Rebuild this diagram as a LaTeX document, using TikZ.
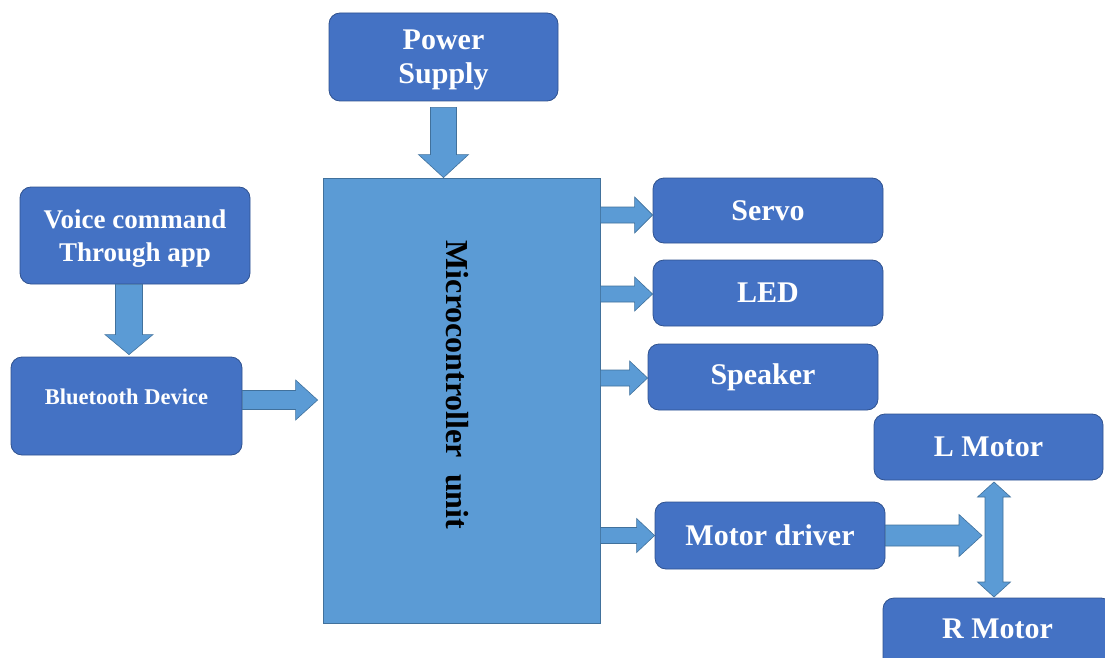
\documentclass[tikz,border=0pt]{standalone}
\usepackage{fontspec}
\setmainfont{Liberation Serif}
\usetikzlibrary{calc}
\definecolor{boxblue}{HTML}{4472C4}
\definecolor{boxedge}{HTML}{2F528F}
\definecolor{lightblue}{HTML}{5B9BD5}
\definecolor{lightedge}{HTML}{41719C}

% block arrow: start, end, shaft half width, head half width, head length
\newcommand\blockarrow[5]{%
  \coordinate (ba-a) at #1;
  \coordinate (ba-b) at #2;
  \coordinate (ba-c) at ($(ba-b)!#5!(ba-a)$);
  \filldraw[blockarrowstyle]
    ($(ba-a)!#3!90:(ba-b)$) -- ($(ba-c)!#3!90:(ba-b)$) -- ($(ba-c)!#4!90:(ba-b)$)
    -- (ba-b) -- ($(ba-c)!#4!-90:(ba-b)$) -- ($(ba-c)!#3!-90:(ba-b)$)
    -- ($(ba-a)!#3!-90:(ba-b)$) -- cycle;}

% double-headed block arrow: end one, end two, shaft half width, head half width, head length
\newcommand\doubleblockarrow[5]{%
  \coordinate (da-a) at #1;
  \coordinate (da-b) at #2;
  \coordinate (da-c) at ($(da-a)!#5!(da-b)$);
  \coordinate (da-d) at ($(da-b)!#5!(da-a)$);
  \filldraw[blockarrowstyle]
    (da-a) -- ($(da-c)!#4!-90:(da-b)$) -- ($(da-c)!#3!-90:(da-b)$)
    -- ($(da-d)!#3!90:(da-a)$) -- ($(da-d)!#4!90:(da-a)$) -- (da-b)
    -- ($(da-d)!#4!-90:(da-a)$) -- ($(da-d)!#3!-90:(da-a)$)
    -- ($(da-c)!#3!90:(da-b)$) -- ($(da-c)!#4!90:(da-b)$) -- cycle;}

\begin{document}
\begin{tikzpicture}[x=1pt,y=-1pt,
  unit/.style={draw=boxedge, line width=0.8pt, fill=boxblue, rounded corners=11pt,
    text=white, font=\bfseries\fontsize{30}{34}\selectfont, align=center, inner sep=0pt},
  mcubox/.style={draw=lightedge, line width=0.8pt, fill=lightblue, inner sep=0pt},
  blockarrowstyle/.style={fill=lightblue, draw=lightedge, line width=0.6pt, line join=miter}]
\useasboundingbox (0,0) rectangle (1105,658);

% blocks
\node[unit, minimum width=229pt, minimum height=88pt] (power) at (443.5,57) {\rule{0pt}{26pt}Power\\Supply};
\node[unit, minimum width=230pt, minimum height=97pt, font=\bfseries\fontsize{27}{33}\selectfont] (voice) at (135,235.5) {\rule{0pt}{25pt}Voice command\\Through app};
\node[unit, minimum width=231pt, minimum height=98pt] (bt) at (126.5,406) {};
\node[text=white, font=\bfseries\fontsize{22.5}{26}\selectfont] (bttext) at (126.5,397) {Bluetooth Device};
\node[mcubox, minimum width=277pt, minimum height=445pt] (mcu) at (461.5,400.5) {};
\node[rotate=-90, font=\bfseries\fontsize{32}{34}\selectfont] (mcutext) at (457,385) {Microcontroller\ \ unit};
\node[unit, minimum width=230pt, minimum height=65pt] (servo) at (768,210.5) {Servo};
\node[unit, minimum width=230pt, minimum height=66pt] (led) at (768,293) {LED};
\node[unit, minimum width=230pt, minimum height=66pt] (speaker) at (763,377) {Speaker};
\node[unit, minimum width=229pt, minimum height=66pt] (lmotor) at (988.5,447) {L Motor};
\node[unit, minimum width=230pt, minimum height=67pt] (driver) at (770,535.5) {Motor driver};
% runs past the lower edge of the page
\node[unit, minimum width=229pt, minimum height=80pt, text depth=18pt] (rmotor) at (997.5,638) {R Motor};

% connectors
\coordinate (p1) at ([yshift=-6pt]power.south);
\blockarrow{(p1)}{(p1 |- mcu.north)}{13pt}{25pt}{23pt}

\coordinate (v1) at ([xshift=-6pt]voice.south);
\coordinate (v2) at ([xshift=-6pt,yshift=2pt]bt.north);
\blockarrow{(v1)}{(v1 |- v2)}{13.5pt}{24pt}{20pt}

\coordinate (b1) at ([yshift=6pt]bt.east);
\coordinate (b2) at ([xshift=-5pt]mcu.west);
\blockarrow{(b1)}{(b2 |- b1)}{9.5pt}{20pt}{22pt}

\coordinate (s1) at ([yshift=-4.5pt]servo.west);
\blockarrow{(s1 -| mcu.east)}{(s1)}{8pt}{18pt}{18pt}

\coordinate (l1) at ([yshift=-1pt]led.west);
\blockarrow{(l1 -| mcu.east)}{(l1)}{8pt}{17pt}{18pt}

\coordinate (k1) at ([yshift=-1pt]speaker.west);
\blockarrow{(k1 -| mcu.east)}{(k1)}{8pt}{17pt}{18pt}

\coordinate (d1) at (driver.west);
\blockarrow{(d1 -| mcu.east)}{(d1)}{8pt}{17pt}{18pt}

% the driver feeds the shaft between the two motors
\coordinate (jn) at (982,535.5);
\blockarrow{(driver.east)}{(jn)}{10.5pt}{21pt}{23pt}

\coordinate (m1) at (994,482);
\coordinate (m2) at (994,597);
\doubleblockarrow{(m1)}{(m2)}{9pt}{16.5pt}{15pt}
\end{tikzpicture}
\end{document}
